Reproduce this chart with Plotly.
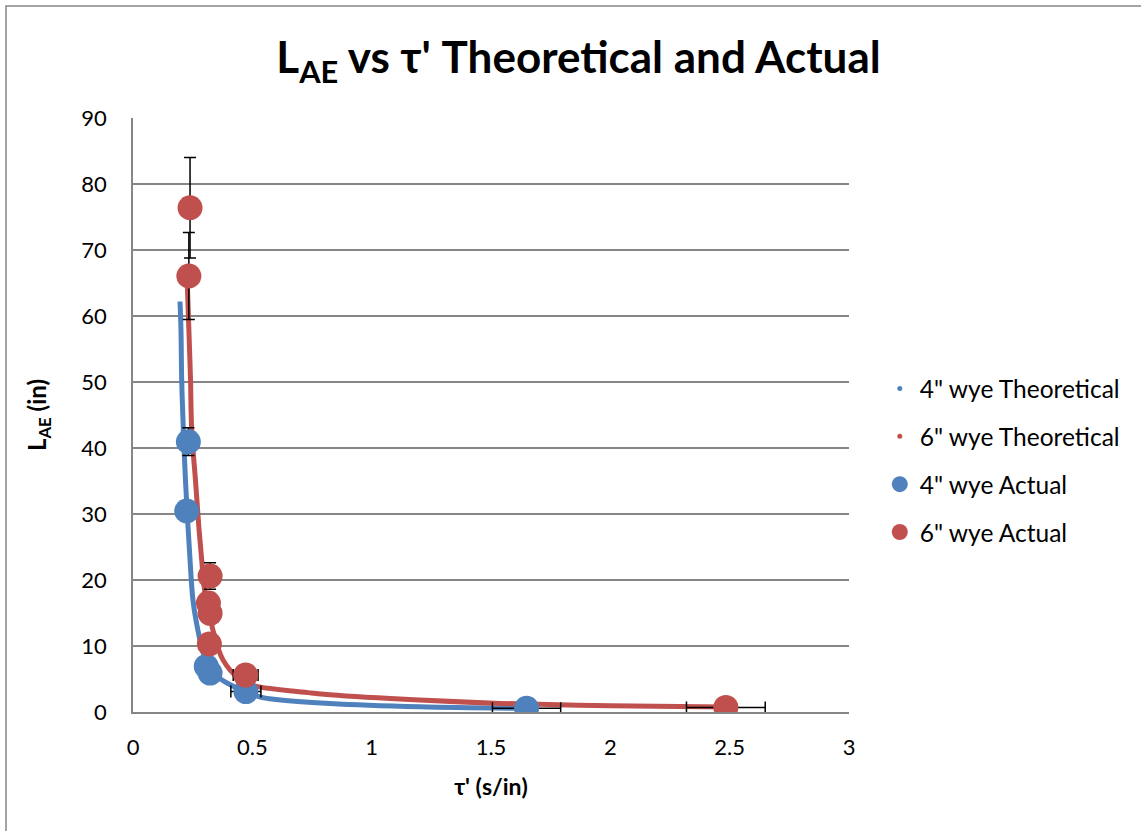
import plotly.graph_objects as go

# Theoretical curves
blue_theo_x = [0.197, 0.201, 0.204, 0.211, 0.220, 0.239, 0.251, 0.264, 0.290, 0.316, 0.360, 0.420, 0.473, 0.530, 0.600, 0.825, 1.200, 1.650]
blue_theo_y = [62.2, 57.9, 50.3, 42.7, 35.0, 23.0, 17.0, 13.9, 9.5, 6.8, 5.2, 3.9, 3.1, 2.3, 1.9, 1.3, 0.8, 0.55]
red_theo_x = [0.227, 0.234, 0.241, 0.246, 0.262, 0.276, 0.288, 0.300, 0.335, 0.377, 0.448, 0.490, 0.742, 0.825, 1.200, 1.538, 2.000, 2.480]
red_theo_y = [65.5, 58.0, 50.3, 42.7, 35.0, 28.0, 23.0, 18.5, 12.4, 7.9, 4.9, 4.1, 2.9, 2.6, 1.8, 1.3, 0.95, 0.75]

# Actual measurements
blue_act_x = [0.232, 0.225, 0.307, 0.323, 0.473, 1.649]
blue_act_y = [40.95, 30.45, 6.9, 5.9, 3.1, 0.55]
blue_act_xerr = [0.02, 0.02, 0.03, 0.03, 0.063, 0.143]
blue_act_yerr = [2.1, 1.5, 0.65, 0.6, 0.3, 0.05]
red_act_x = [0.239, 0.234, 0.323, 0.316, 0.323, 0.320, 0.472, 2.484]
red_act_y = [76.4, 66.06, 20.6, 16.5, 14.95, 10.3, 5.6, 0.7]
red_act_xerr = [0.02, 0.02, 0.03, 0.03, 0.03, 0.03, 0.052, 0.165]
red_act_yerr = [7.6, 6.6, 2.0, 1.6, 1.5, 1.0, 0.56, 0.07]

x_ticks = [0, 0.5, 1, 1.5, 2, 2.5, 3]
x_tick_text = ["0", "0.5", "1", "1.5", "2", "2.5", "3"]
y_ticks = [0, 10, 20, 30, 40, 50, 60, 70, 80, 90]

BLUE = "#4F81BD"
RED = "#C0504D"
FONT = "Lato"

fig = go.Figure()

fig.add_trace(go.Scatter(x=blue_theo_x, y=blue_theo_y, mode="lines", line=dict(color=BLUE, width=5, shape="spline"),
                         showlegend=False, hoverinfo="skip"))
fig.add_trace(go.Scatter(x=red_theo_x, y=red_theo_y, mode="lines", line=dict(color=RED, width=5, shape="spline"),
                         showlegend=False, hoverinfo="skip"))
# legend entries for theoretical series (small dots)
fig.add_trace(go.Scatter(x=[None], y=[None], mode="markers", marker=dict(color=BLUE, size=5),
                         name='4" wye Theoretical', legendrank=1, legendgroup="g1"))
fig.add_trace(go.Scatter(x=[None], y=[None], mode="markers", marker=dict(color=RED, size=5),
                         name='6" wye Theoretical', legendrank=2, legendgroup="g2"))

err_style = dict(color="black", thickness=1.5, width=6)
fig.add_trace(go.Scatter(x=blue_act_x, y=blue_act_y, mode="markers", name='4" wye Actual', legendrank=3,
                         legendgroup="g3", marker=dict(color=BLUE, size=25),
                         error_x=dict(type="data", array=blue_act_xerr, **err_style),
                         error_y=dict(type="data", array=blue_act_yerr, **err_style)))
fig.add_trace(go.Scatter(x=red_act_x, y=red_act_y, mode="markers", name='6" wye Actual', legendrank=4,
                         legendgroup="g4", marker=dict(color=RED, size=25),
                         error_x=dict(type="data", array=red_act_xerr, **err_style),
                         error_y=dict(type="data", array=red_act_yerr, **err_style)))

fig.update_layout(
    width=1141, height=831,
    margin=dict(l=133, r=292, t=118, b=119),
    paper_bgcolor="white", plot_bgcolor="white",
    font=dict(family=FONT, color="black", size=20),
    title=dict(text="<b>L<sub>AE</sub> vs τ' Theoretical and Actual</b>", x=0.507, xanchor="center",
               y=1 - 58 / 831, yanchor="middle", font=dict(size=44, family=FONT)),
    showlegend=True,
    legend=dict(x=1.043, xanchor="left", y=(712 - 366) / 594, yanchor="top",
                font=dict(size=24.5, family=FONT), tracegroupgap=13, traceorder="grouped",
                itemsizing="trace", bgcolor="rgba(0,0,0,0)"),
    xaxis=dict(range=[0, 3], tickvals=x_ticks, ticktext=x_tick_text, showgrid=False, zeroline=False,
               showline=True, linecolor="#868686", linewidth=1.5, ticks="",
               ticklabelstandoff=15, tickfont=dict(size=22),
               title=dict(text="<b>τ' (s/in)</b>", font=dict(size=23), standoff=20)),
    yaxis=dict(range=[0, 90], tickvals=y_ticks, showgrid=True, gridcolor="#868686", gridwidth=1.5,
               zeroline=False, showline=True, linecolor="#868686", linewidth=1.5, ticks="",
               ticklabelstandoff=20, tickfont=dict(size=22),
               title=dict(text="<b>L<sub>AE</sub> (in)</b>", font=dict(size=24), standoff=28)),
    shapes=[dict(type="rect", xref="paper", yref="paper",
                 x0=-(133 - 6) / 716, x1=(1160 - 133) / 716, y0=-(850 - 712) / 594, y1=(712 - 6) / 594,
                 line=dict(color="#868686", width=1.5), fillcolor="rgba(0,0,0,0)", layer="below")],
)

fig.write_html("out.html")
